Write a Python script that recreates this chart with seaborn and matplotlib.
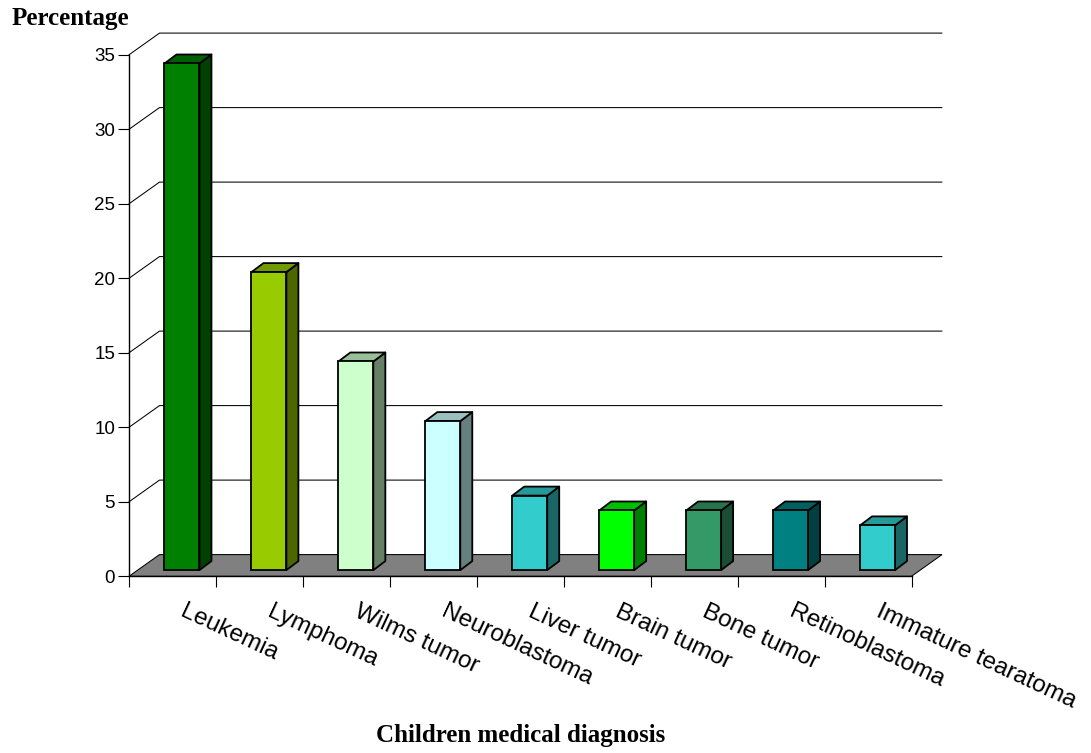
import matplotlib
matplotlib.use("Agg")
import matplotlib.pyplot as plt
from matplotlib.colors import to_rgb
from matplotlib.patches import Polygon
from matplotlib.transforms import Affine2D
import seaborn as sns

diagnoses = ["Leukemia", "Lymphoma", "Wilms tumor", "Neuroblastoma", "Liver tumor",
             "Brain tumor", "Bone tumor", "Retinoblastoma", "Immature tearatoma"]
percentages = [34, 20, 14, 10, 5, 4, 4, 4, 3]
bar_colors = ["#008000", "#99CC00", "#CCFFCC", "#CCFFFF", "#33CCCC",
              "#00FF00", "#339966", "#008080", "#33CCCC"]
y_ticks = [0, 5, 10, 15, 20, 25, 30, 35]

W, H = 1091, 753
LEFT, RIGHT, BASE, TOP = 129.0, 911.5, 576.3, 54.8

sns.set_theme(style="white")
plt.rcParams["font.family"] = ["Liberation Sans", "DejaVu Sans"]

fig = plt.figure(figsize=(W / 100, H / 100), dpi=100, facecolor="white")
ax = fig.add_axes([LEFT / W, 1 - BASE / H, (RIGHT - LEFT) / W, (BASE - TOP) / H])

sns.barplot(x=diagnoses, y=percentages, hue=diagnoses, palette=bar_colors, legend=False,
            width=0.402, saturation=1, edgecolor="black", linewidth=1.3, ax=ax, zorder=5)
ax.set_xlim(-0.5, 8.5)
ax.set_ylim(0, 35)

px_x = (RIGHT - LEFT) / 9
px_y = (BASE - TOP) / 35


def to_x(px):
    return px / px_x


def to_y(px):
    return px / px_y


# Perspective depth of the chart floor and of each bar, in pixels
wall_dx, wall_dy = 30.5, 21.7
bar_dx, bar_dy = 9.5, 6.2
depth_dx, depth_dy = 12, 9

# Back wall grid with its diagonal returns to the value axis
for tick in y_ticks[1:]:
    ax.plot([-0.5, -0.5 + to_x(wall_dx), 8.5 + to_x(wall_dx)],
            [tick, tick + to_y(wall_dy), tick + to_y(wall_dy)],
            color="black", lw=0.75, clip_on=False, zorder=1, solid_joinstyle="miter")

# Grey floor
ax.add_patch(Polygon([(-0.5, 0), (8.5, 0), (8.5 + to_x(wall_dx), to_y(wall_dy)),
                      (-0.5 + to_x(wall_dx), to_y(wall_dy))],
                     closed=True, facecolor="#808080", edgecolor="black", lw=0.75,
                     clip_on=False, zorder=2))

# Side and top faces follow each seaborn bar; front faces move onto the floor
shift = Affine2D().translate(bar_dx, bar_dy)
for patch, color in zip(ax.patches[:9], bar_colors):
    x0, x1 = patch.get_x(), patch.get_x() + patch.get_width()
    h = patch.get_height()
    base_rgb = to_rgb(color)
    ox, oy = to_x(depth_dx), to_y(depth_dy)
    side = [(x1, 0), (x1 + ox, oy), (x1 + ox, h + oy), (x1, h)]
    top = [(x0, h), (x0 + ox, h + oy), (x1 + ox, h + oy), (x1, h)]
    for points, shade in ((side, 0.5), (top, 0.75)):
        ax.add_patch(Polygon(points, closed=True,
                             facecolor=tuple(c * shade for c in base_rgb),
                             edgecolor="black", lw=1.3, clip_on=False, zorder=4,
                             joinstyle="round",
                             transform=ax.transData + shift))
    patch.set_transform(ax.transData + shift)
    patch.set_clip_on(False)

sns.despine(ax=ax)
for name in ("left", "bottom"):
    ax.spines[name].set_color("black")
    ax.spines[name].set_linewidth(1.0)
    ax.spines[name].set_zorder(6)

ax.set_yticks(y_ticks)
ax.set_xticks([i - 0.5 for i in range(10)])
ax.set_xticklabels([])
ax.tick_params(axis="both", which="major", direction="out", length=8, width=0.8,
               color="black", left=True, bottom=True)
ax.tick_params(axis="y", labelsize=13.5, pad=2, labelcolor="black")
ax.set_xlabel("")
ax.set_ylabel("")

for i, name in enumerate(diagnoses):
    ax.annotate(name, xy=(i, 0), xytext=(7, -40), xycoords="data", textcoords="offset pixels",
                rotation=-25, rotation_mode="anchor", ha="left", va="baseline",
                fontsize=17.5, color="black", annotation_clip=False)

serif = ["Liberation Serif", "DejaVu Serif"]
fig.text(70.5 / W, 1 - 25 / H, "Percentage", family=serif, weight="bold", fontsize=18,
         ha="center", va="baseline", color="black")
fig.text(520.5 / W, 1 - 742 / H, "Children medical diagnosis", family=serif, weight="bold",
         fontsize=18, ha="center", va="baseline", color="black")

fig.savefig("out.png", dpi=100, facecolor="white")
